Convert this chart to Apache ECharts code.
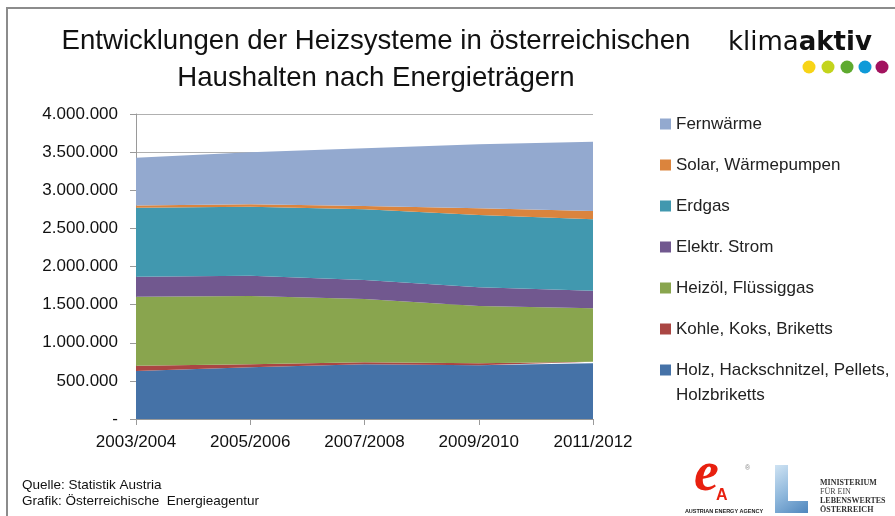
<!DOCTYPE html>
<html>
<head>
<meta charset="utf-8">
<script src="https://cdn.jsdelivr.net/npm/echarts@6/dist/echarts.min.js"></script>
<style>html,body{margin:0;padding:0;background:#fff}#c{width:895px;height:516px}</style>
</head>
<body>
<div id="c"></div>
<script>
const categories = ['2003/2004', '2005/2006', '2007/2008', '2009/2010', '2011/2012'];
const holz       = [630000, 678000, 717000, 704000, 730000];
const kohle      = [70000, 39000, 26000, 26000, 22000];
const heizoel    = [904000, 896000, 831000, 752000, 699000];
const strom      = [262000, 267000, 249000, 245000, 232000];
const erdgas     = [905000, 905000, 927000, 948000, 936000];
const solar      = [30000, 31000, 43000, 88000, 109000];
const fernwaerme = [626000, 682000, 757000, 840000, 909000];

const seriesNames = ['Holz, Hackschnitzel, Pellets, Holzbriketts', 'Kohle, Koks, Briketts', 'Heizöl, Flüssiggas',
  'Elektr. Strom', 'Erdgas', 'Solar, Wärmepumpen', 'Fernwärme'];
const seriesData = [holz, kohle, heizoel, strom, erdgas, solar, fernwaerme];
const colors = ['#4572A7', '#AA4643', '#89A54E', '#71588F', '#4198AF', '#DB843D', '#93A9CF'];

function fmt(v) {
  if (v === 0) return '-';
  return String(Math.round(v)).replace(/\B(?=(\d{3})+(?!\d))/g, '.');
}

const FONT = 'Liberation Sans';
const chart = echarts.init(document.getElementById('c'), null, {renderer: 'canvas'});
chart.setOption({
  animation: false,
  backgroundColor: '#fff',
  title: {
    text: 'Entwicklungen der Heizsysteme in österreichischen\nHaushalten nach Energieträgern',
    left: 371, top: 18, textAlign: 'center',
    textStyle: {fontFamily: FONT, fontSize: 27.6, fontWeight: 'normal', color: '#111', lineHeight: 37}
  },
  grid: {left: 136, right: 302, top: 114, bottom: 97},
  legend: [{
    orient: 'vertical', left: 660, top: 111.5, padding: 0,
    itemWidth: 11, itemHeight: 11, itemGap: 16, icon: 'rect', selectedMode: false,
    data: seriesNames.slice(1).reverse(),
    textStyle: {fontFamily: FONT, fontSize: 17, color: '#222', lineHeight: 25}
  }, {
    orient: 'vertical', left: 660, top: 332.5, padding: 0,
    itemWidth: 11, itemHeight: 11, icon: 'rect', selectedMode: false,
    data: [seriesNames[0]],
    formatter: function () { return '{e| }\n{t|Holz, Hackschnitzel, Pellets,}\n{t|Holzbriketts}'; },
    textStyle: {fontFamily: FONT, fontSize: 17, color: '#222', lineHeight: 25,
      rich: {e: {fontSize: 17, lineHeight: 25}, t: {fontFamily: FONT, fontSize: 17, color: '#222', lineHeight: 25}}}
  }],
  xAxis: {
    type: 'category', data: categories, boundaryGap: false,
    axisLine: {lineStyle: {color: '#9a9a9a', width: 1}},
    axisTick: {show: true, length: 6, lineStyle: {color: '#9a9a9a'}},
    axisLabel: {fontFamily: FONT, fontSize: 17, color: '#111', margin: 15}
  },
  yAxis: {
    type: 'value', min: 0, max: 4000000, interval: 500000,
    axisLine: {show: true, lineStyle: {color: '#9a9a9a', width: 1}},
    axisTick: {show: true, length: 6, lineStyle: {color: '#9a9a9a'}},
    splitLine: {show: true, lineStyle: {color: '#b0b0b0', width: 1}},
    axisLabel: {fontFamily: FONT, fontSize: 17, color: '#111', margin: 18, formatter: fmt}
  },
  series: seriesNames.map((n, i) => ({
    name: n, type: 'line', stack: 'total', data: seriesData[i],
    showSymbol: false, symbol: 'none',
    lineStyle: {width: 0}, itemStyle: {color: colors[i]},
    areaStyle: {color: colors[i], opacity: 1}
  })),
  graphic: [
    {type: 'rect', shape: {x: 7, y: 8, width: 900, height: 520}, style: {fill: 'none', stroke: '#8c8c8c', lineWidth: 2}, silent: true},
    {type: 'text', x: 728, y: 56, style: {
      text: '{a|klima}{b|aktiv}', textVerticalAlign: 'bottom',
      rich: {a: {fontFamily: 'DejaVu Sans', fontSize: 26, fill: '#111'}, b: {fontFamily: 'DejaVu Sans', fontSize: 26, fontWeight: 'bold', fill: '#111'}}
    }},
    {type: 'circle', shape: {cx: 809, cy: 67, r: 6.5}, style: {fill: '#F7D417'}},
    {type: 'circle', shape: {cx: 828, cy: 67, r: 6.5}, style: {fill: '#C3D41C'}},
    {type: 'circle', shape: {cx: 847, cy: 67, r: 6.5}, style: {fill: '#5EAA2F'}},
    {type: 'circle', shape: {cx: 865, cy: 67, r: 6.5}, style: {fill: '#0F9AD8'}},
    {type: 'circle', shape: {cx: 882, cy: 67, r: 6.5}, style: {fill: '#A2135F'}},
    {type: 'text', x: 22, y: 485, style: {text: 'Quelle: Statistik Austria', font: '13.5px "Liberation Sans"', fill: '#111', textVerticalAlign: 'middle'}},
    {type: 'text', x: 22, y: 501, style: {text: 'Grafik: Österreichische  Energieagentur', font: '13.5px "Liberation Sans"', fill: '#111', textVerticalAlign: 'middle'}},
    {type: 'text', x: 694, y: 504, style: {text: 'e', font: 'italic bold 56px "Liberation Serif"', fill: '#E8200F', textVerticalAlign: 'bottom'}},
    {type: 'text', x: 716, y: 504, style: {text: 'A', font: 'bold 16px "Liberation Sans"', fill: '#E8200F', textVerticalAlign: 'bottom'}},
    {type: 'text', x: 745, y: 468, style: {text: '®', font: '7px "Liberation Sans"', fill: '#888', textVerticalAlign: 'middle'}},
    {type: 'text', x: 724, y: 511, style: {text: 'AUSTRIAN ENERGY AGENCY', font: 'bold 5.5px "Liberation Sans"', fill: '#222', textAlign: 'center', textVerticalAlign: 'middle'}},
    {type: 'polygon', shape: {points: [[775, 465], [788, 465], [788, 501], [808, 501], [808, 513], [775, 513]]},
      style: {fill: new echarts.graphic.LinearGradient(0, 0, 1, 1, [{offset: 0, color: '#cfe3f3'}, {offset: 0.5, color: '#8fb8dc'}, {offset: 1, color: '#4f86bd'}])}},
    {type: 'text', x: 820, y: 483, style: {text: 'MINISTERIUM', font: 'bold 8px "Liberation Serif"', fill: '#333', textVerticalAlign: 'middle'}},
    {type: 'text', x: 820, y: 492, style: {text: 'FÜR EIN', font: '8px "Liberation Serif"', fill: '#444', textVerticalAlign: 'middle'}},
    {type: 'text', x: 820, y: 501, style: {text: 'LEBENSWERTES', font: 'bold 8px "Liberation Serif"', fill: '#333', textVerticalAlign: 'middle'}},
    {type: 'text', x: 820, y: 510, style: {text: 'ÖSTERREICH', font: 'bold 8px "Liberation Serif"', fill: '#333', textVerticalAlign: 'middle'}}
  ]
});
</script>
</body>
</html>
